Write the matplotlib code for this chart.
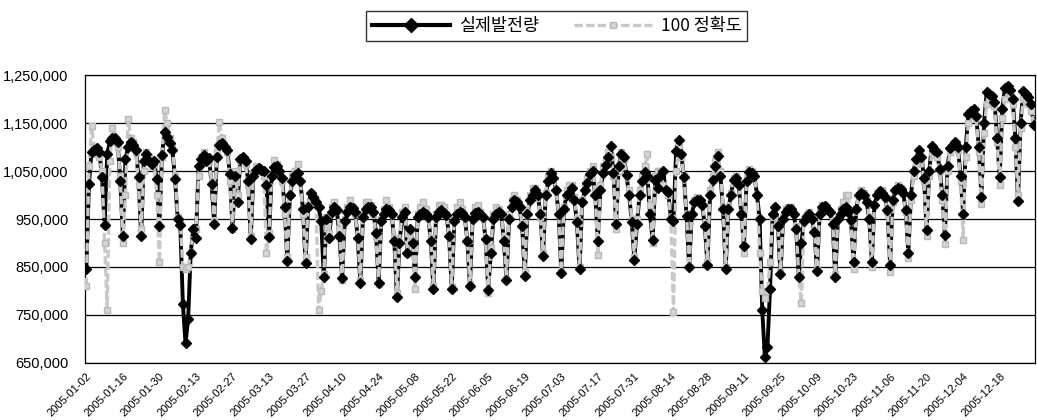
import matplotlib
matplotlib.use('Agg')
import matplotlib.pyplot as plt
import matplotlib.transforms as mtransforms
import numpy as np
import pandas as pd

plt.rcParams['font.family'] = ['Liberation Sans', 'Noto Sans CJK KR', 'DejaVu Sans']

# daily values, 2005-01-02 .. 2005-12-31, one row per week (Sun..Sat), in thousands
actual_k = [
    845, 1023, 1090, 1095, 1098, 1090, 1037,
    937, 1085, 1112, 1120, 1118, 1110, 1030,
    915, 1075, 1100, 1110, 1105, 1095, 1037,
    915, 1070, 1085, 1072, 1065, 1070, 1033,
    935, 1084, 1132, 1121, 1108, 1094, 1033,
    950, 937, 772, 691, 741, 880, 930,
    910, 1060, 1075, 1084, 1071, 1077, 1023,
    940, 1080, 1104, 1108, 1100, 1094, 1044,
    931, 1040, 985, 1075, 1080, 1070, 1030,
    908, 1040, 1053, 1056, 1052, 1050, 1020,
    913, 1040, 1058, 1061, 1050, 1035, 975,
    863, 1000, 1030, 1042, 1045, 1030, 970,
    859, 975, 1004, 995, 985, 975, 945,
    829, 950, 910, 965, 975, 968, 915,
    826, 945, 965, 975, 972, 965, 910,
    816, 955, 970, 975, 975, 965, 920,
    817, 945, 960, 970, 968, 960, 905,
    787, 900, 955, 965, 879, 930, 900,
    830, 955, 960, 965, 960, 955, 905,
    804, 955, 965, 968, 962, 958, 915,
    804, 945, 960, 965, 963, 955, 905,
    811, 950, 962, 965, 960, 955, 908,
    803, 880, 950, 960, 965, 960, 905,
    822, 950, 975, 990, 985, 975, 935,
    832, 960, 990, 1000, 1010, 1000, 960,
    872, 1000, 1030, 1046, 1035, 1010, 960,
    837, 970, 1000, 1005, 1014, 990, 943,
    845, 985, 1010, 1025, 1044, 1050, 1000,
    905, 1010, 1045, 1062, 1080, 1102, 1045,
    940, 1060, 1085, 1080, 1041, 1000, 944,
    865, 940, 1000, 1030, 1048, 1040, 960,
    906, 1031, 1014, 1040, 1051, 1010, 1007,
    950, 946, 1091, 1115, 1085, 1037, 957,
    849, 960, 985, 990, 990, 980, 936,
    855, 1000, 1031, 1060, 1081, 1040, 970,
    845, 970, 1000, 1031, 1035, 1020, 960,
    893, 1030, 1048, 1045, 1040, 1000, 950,
    761, 663, 683, 805, 960, 975, 936,
    835, 950, 965, 970, 970, 960, 930,
    829, 900, 946, 957, 960, 950, 923,
    842, 960, 975, 977, 970, 965, 940,
    829, 950, 960, 970, 975, 965, 947,
    860, 970, 1000, 1005, 1000, 985, 950,
    860, 980, 1000, 1008, 1005, 995, 968,
    854, 990, 1010, 1015, 1012, 1005, 968,
    879, 1000, 1050, 1076, 1093, 1080, 1035,
    927, 1050, 1103, 1095, 1089, 1055, 1000,
    916, 1060, 1099, 1105, 1110, 1100, 1040,
    961, 1100, 1170, 1175, 1180, 1165, 1100,
    996, 1150, 1214, 1210, 1207, 1195, 1120,
    1037, 1180, 1224, 1228, 1220, 1200, 1120,
    988, 1150, 1217, 1210, 1204, 1190, 1147,
]

forecast_k = [
    810, 1060, 1143, 1100, 1085, 1080, 1050,
    900, 761, 1070, 1139, 1110, 1100, 1040,
    900, 1000, 1159, 1120, 1110, 1090, 1020,
    930, 1050, 1090, 1080, 1060, 1065, 1000,
    860, 1080, 1177, 1150, 1120, 1100, 1040,
    955, 945, 850, 846, 850, 880, 930,
    930, 1040, 1080, 1090, 1075, 1070, 1030,
    945, 1090, 1153, 1120, 1100, 1090, 1030,
    930, 1050, 1000, 1070, 1075, 1065, 1020,
    915, 1045, 1060, 1058, 1050, 1040, 880,
    920, 1040, 1074, 1065, 1050, 1030, 960,
    870, 1000, 1040, 1050, 1065, 1030, 960,
    870, 980, 1005, 1000, 990, 760, 800,
    835, 955, 920, 975, 985, 970, 930,
    822, 950, 975, 990, 975, 960, 915,
    823, 960, 985, 985, 980, 960, 915,
    815, 950, 970, 990, 975, 960, 910,
    795, 905, 965, 975, 880, 925, 905,
    805, 960, 975, 985, 970, 955, 910,
    810, 960, 980, 980, 975, 960, 915,
    808, 955, 975, 985, 970, 955, 905,
    815, 955, 975, 980, 965, 955, 905,
    795, 890, 960, 975, 970, 960, 910,
    825, 960, 990, 1000, 990, 975, 940,
    840, 965, 1000, 1015, 1015, 1000, 955,
    880, 1005, 1040, 1050, 1040, 1010, 960,
    840, 975, 1010, 1020, 1020, 995, 950,
    850, 990, 1020, 1035, 1050, 1060, 1005,
    876, 1020, 1060, 1070, 1090, 1080, 1040,
    930, 1050, 1090, 1075, 1040, 1010, 950,
    870, 950, 1010, 1040, 1060, 1085, 980,
    900, 1040, 1050, 1050, 1020, 1010, 1000,
    950, 757, 1050, 1100, 1080, 1040, 960,
    850, 960, 990, 995, 990, 985, 940,
    860, 1010, 1040, 1070, 1090, 1050, 975,
    850, 975, 1005, 1035, 1040, 1025, 960,
    880, 1035, 1055, 1050, 1040, 1000, 880,
    800, 785, 800, 860, 955, 975, 940,
    840, 955, 970, 975, 975, 960, 935,
    830, 775, 950, 960, 965, 955, 925,
    845, 965, 980, 980, 975, 965, 945,
    835, 955, 970, 985, 1000, 1000, 945,
    845, 970, 1000, 1010, 1005, 990, 955,
    850, 980, 1005, 1010, 1010, 995, 965,
    840, 985, 1010, 1020, 1015, 1005, 965,
    868, 990, 1040, 1065, 1080, 1075, 1030,
    915, 1040, 1090, 1085, 1080, 1050, 990,
    897, 1050, 1090, 1100, 1100, 1095, 1030,
    907, 1080, 1150, 1165, 1170, 1160, 1090,
    981, 1130, 1190, 1200, 1195, 1185, 1110,
    1020, 1160, 1200, 1215, 1210, 1190, 1100,
    1001, 1140, 1200, 1195, 1190, 1175, 1150,
]

series_names = ['실제발전량', '100 정확도']
dates = pd.date_range('2005-01-02', '2005-12-31', freq='D')
tick_labels = [d.strftime('%Y-%m-%d') for d in dates[::14]]

actual = np.array(actual_k) * 1000
forecast = np.array(forecast_k) * 1000
x = np.arange(len(dates))

fig = plt.figure(figsize=(10.37, 4.2), dpi=100)
ax = fig.add_axes([0.082, 0.136, 0.916, 0.685])

ax.plot(x, actual, color='black', lw=2.8, zorder=3)
l2, = ax.plot(x, forecast, color='#c8c8c8', lw=2.4, ls=(0, (2.5, 1)), marker='s', ms=3.8,
              mec='#b8b8b8', mfc='#d4d4d4', zorder=4, label=series_names[1])
ax.plot(x, actual, ls='none', marker='D', ms=5.5, color='black', zorder=5)
l1, = ax.plot([], [], color='black', lw=3, marker='D', ms=7, label=series_names[0])

ax.set_xlim(-0.5, len(x) - 0.5)
ax.set_ylim(650000, 1250000)
ax.set_yticks(np.arange(650000, 1250001, 100000))
ax.yaxis.set_major_formatter(plt.FuncFormatter(lambda v, p: f'{int(v):,}'))
ax.yaxis.grid(True, color='black', lw=0.9)
ax.set_axisbelow(True)

ax.set_xticks(x[::14])
ax.set_xticklabels(tick_labels, rotation=45, ha='right', rotation_mode='anchor', fontsize=8)
shift = mtransforms.ScaledTranslation(7 / 72, 0, fig.dpi_scale_trans)
for lab in ax.get_xticklabels():
    lab.set_transform(lab.get_transform() + shift)
ax.tick_params(axis='x', length=0, pad=6)
ax.tick_params(axis='y', length=0, pad=12, labelsize=10.5)
for s in ax.spines.values():
    s.set_linewidth(0.9)
    s.set_color('black')

leg = fig.legend(handles=[l1, l2], loc='center', bbox_to_anchor=(0.537, 0.938), ncol=2,
                 frameon=True, fancybox=False, edgecolor='black',
                 handlelength=4.5, columnspacing=2.0, borderpad=0.35, handletextpad=0.5,
                 numpoints=1, prop={'family': ['Noto Sans CJK KR', 'DejaVu Sans'], 'size': 12.5})
leg.get_frame().set_linewidth(1.0)

fig.savefig('out.png', dpi=100)
